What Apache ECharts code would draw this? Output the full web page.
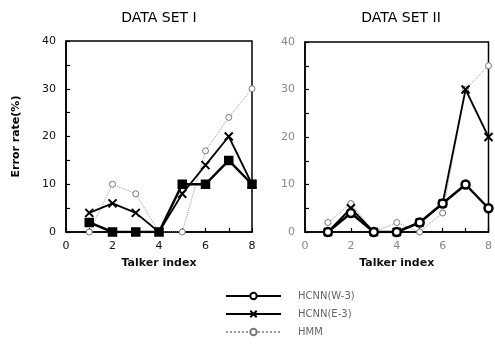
<!DOCTYPE html>
<html><head><meta charset="utf-8">
<script src="https://cdn.jsdelivr.net/npm/echarts@6/dist/echarts.min.js"></script>
<style>html,body{margin:0;padding:0;background:#fff}#c{width:495px;height:346px}</style>
</head><body><div id="c"></div>
<script>
var talkers = [1,2,3,4,5,6,7,8];
var xTicks = [0,2,4,6,8];
var yTicks = [0,10,20,30,40];
var titles = ['DATA SET I','DATA SET II'];
var seriesNames = ['HCNN(W-3)','HCNN(E-3)','HMM'];
// Data set I
var set1W3 = [2,0,0,0,10,10,15,10];
var set1E3 = [4,6,4,0,8,14,20,10];
var set1HMM = [0,10,8,0,0,17,24,30];
// Data set II
var set2W3 = [0,4,0,0,2,6,10,5];
var set2E3 = [0,5,0,0,2,6,30,20];
var set2HMM = [2,6,0,2,0,4,30,35];

function pairs(v){return talkers.map(function(t,i){return [t,v[i]];});}
var xPath = 'path://M0,0L10,10M10,0L0,10';
var grids = [{left:66,right:243,top:41,bottom:114},{left:305,right:5,top:42,bottom:114}];
var xAxes=[], yAxes=[], series=[];
[0,1].forEach(function(g){
  var lc = g===0 ? '#111' : '#888';
  xAxes.push({type:'value',gridIndex:g,min:0,max:8,interval:1,
    name:'Talker index',nameLocation:'middle',nameGap:26,
    nameTextStyle:{fontFamily:'DejaVu Sans',fontSize:11,fontWeight:'bold',color:'#111'},
    axisLine:{lineStyle:{color:'#000',width:1.5}},
    axisTick:{inside:true,length:4,lineStyle:{color:'#000',width:1.2}},
    axisLabel:{color:lc,fontFamily:'DejaVu Sans',fontSize:11,margin:9,
      formatter:function(v){return xTicks.indexOf(v)>=0?String(v):'';}},
    splitLine:{show:false}});
  yAxes.push({type:'value',gridIndex:g,min:0,max:40,interval:5,
    name: g===0 ? 'Error rate(%)' : '',nameLocation:'middle',nameGap:44,nameRotate:90,
    nameTextStyle:{fontFamily:'DejaVu Sans',fontSize:11,fontWeight:'bold',color:'#000'},
    axisLine:{lineStyle:{color:'#000',width:1.5}},
    axisTick:{inside:true,length:4,lineStyle:{color:'#000',width:1.2}},
    axisLabel:{color:lc,fontFamily:'DejaVu Sans',fontSize:11,margin:10,
      formatter:function(v){return yTicks.indexOf(v)>=0?String(v):'';}},
    splitLine:{show:false}});
});
[1,0].forEach(function(g){
  var w = g===0?set1W3:set2W3, e = g===0?set1E3:set2E3, h = g===0?set1HMM:set2HMM;
  series.push({name:seriesNames[2],type:'line',xAxisIndex:g,yAxisIndex:g,data:pairs(h),
    symbol:'circle',symbolSize:6,showAllSymbol:true,
    lineStyle:{color:'#999',width:1,type:'dotted'},
    itemStyle:{color:'#fff',borderColor:'#777',borderWidth:1},z:2});
  series.push({name:seriesNames[0],type:'line',xAxisIndex:g,yAxisIndex:g,data:pairs(w),
    symbol: g===0?'rect':'circle',symbolSize:g===0?7:8,showAllSymbol:true,
    lineStyle:{color:'#000',width:2.5},
    itemStyle:{color:g===0?'#000':'#fff',borderColor:'#000',borderWidth:2.5},z:4});
  series.push({name:seriesNames[1],type:'line',xAxisIndex:g,yAxisIndex:g,data:pairs(e),
    symbol:xPath,symbolSize:8,showAllSymbol:true,
    lineStyle:{color:'#000',width:1.8},
    itemStyle:{color:'#000',borderColor:'#000',borderWidth:2},z:3});
});
var chart = echarts.init(document.getElementById('c'));
chart.setOption({
  animation:false,
  backgroundColor:'#fff',
  title:[
    {text:titles[0],left:154,top:6,textAlign:'center',textStyle:{fontFamily:'DejaVu Sans',fontSize:14,fontWeight:'normal',color:'#000'}},
    {text:titles[1],left:396,top:6,textAlign:'center',textStyle:{fontFamily:'DejaVu Sans',fontSize:14,fontWeight:'normal',color:'#000'}}
  ],
  grid: grids.map(function(g){return Object.assign({show:true,borderColor:'#000',borderWidth:1.5,backgroundColor:'transparent'},g);}),
  xAxis:xAxes, yAxis:yAxes,
  legend:{orient:'vertical',left:225,top:290,height:56,padding:0,itemWidth:55,itemHeight:8,itemGap:6,
    data:seriesNames,
    textStyle:{fontFamily:'DejaVu Sans',fontSize:10,color:'#666',padding:[0,0,0,12],lineHeight:12}},
  series:series
});
</script></body></html>
